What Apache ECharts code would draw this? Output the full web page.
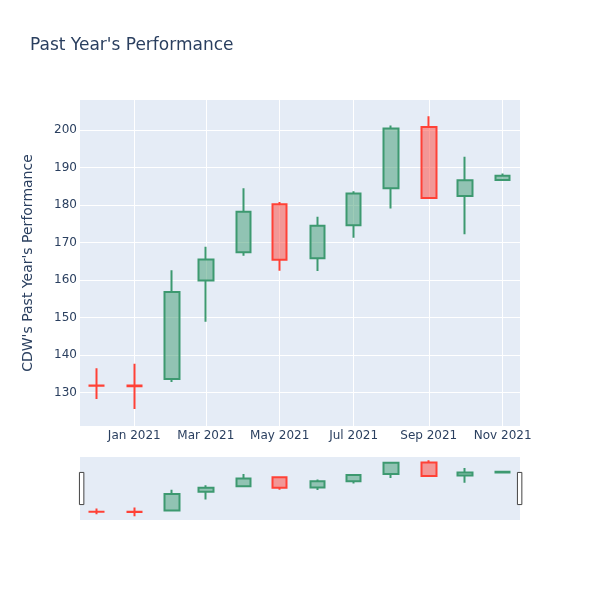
<!DOCTYPE html>
<html>
<head>
<meta charset="utf-8">
<script src="https://cdn.jsdelivr.net/npm/echarts@6/dist/echarts.min.js"></script>
<style>
  html, body { margin: 0; padding: 0; background: #fff; }
  #main { width: 600px; height: 600px; }
</style>
</head>
<body>
<div id="main"></div>
<script>
// monthly candles
var dates = ['2020-12-01', '2021-01-01', '2021-02-01', '2021-03-01', '2021-04-01', '2021-05-01',
             '2021-06-01', '2021-07-01', '2021-08-01', '2021-09-01', '2021-10-01', '2021-11-01'];
var openVals  = [131.9, 131.9, 133.6, 159.9, 167.4, 180.2, 165.8, 174.6, 184.5, 200.8, 182.4, 186.7];
var closeVals = [131.8, 131.7, 156.8, 165.5, 178.2, 165.4, 174.5, 183.1, 200.4, 181.9, 186.6, 187.8];
var lowVals   = [128.3, 125.6, 132.8, 148.9, 166.5, 162.5, 162.4, 171.3, 179.1, 181.9, 172.2, 186.7];
var highVals  = [136.5, 137.7, 162.6, 168.9, 184.5, 180.8, 176.9, 183.7, 201.2, 203.7, 192.9, 188.4];

var xTicks = ['2021-01-01', '2021-03-01', '2021-05-01', '2021-07-01', '2021-09-01', '2021-11-01'];
var yTicks = [130, 140, 150, 160, 170, 180, 190, 200];
var monthNames = ['Jan', 'Feb', 'Mar', 'Apr', 'May', 'Jun', 'Jul', 'Aug', 'Sep', 'Oct', 'Nov', 'Dec'];

function ts(s) {
  var p = s.split('-');
  return Date.UTC(+p[0], +p[1] - 1, +p[2]);
}

var candles = dates.map(function (d, i) {
  return [ts(d), openVals[i], closeVals[i], lowVals[i], highVals[i]];
});

var xMin = ts('2020-11-17') + 5 * 3600e3;
var xMax = ts('2021-11-15') + 7 * 3600e3;

var font = 'DejaVu Sans, Open Sans, sans-serif';
var txt = '#2a3f5f';

var candleStyle = {
  color: 'rgba(61,153,112,0.5)',
  color0: 'rgba(255,65,54,0.5)',
  borderColor: '#3D9970',
  borderColor0: '#FF4136',
  borderWidth: 2
};

var chart = echarts.init(document.getElementById('main'), null, { renderer: 'canvas' });

chart.setOption({
  backgroundColor: '#fff',
  animation: false,
  title: {
    text: "Past Year's Performance",
    left: 25,
    top: 32,
    textStyle: { color: txt, fontSize: 17, fontWeight: 'normal', fontFamily: font }
  },
  grid: [
    { left: 80, top: 100, width: 440, height: 326, show: true, backgroundColor: '#E5ECF6', borderWidth: 0 },
    { left: 80, top: 457, width: 440, height: 63, show: true, backgroundColor: '#E5ECF6', borderWidth: 0 }
  ],
  xAxis: [
    {
      type: 'value', gridIndex: 0, min: xMin, max: xMax,
      axisLine: { show: false },
      axisTick: { show: false, customValues: xTicks.map(ts) },
      splitLine: { show: true, lineStyle: { color: '#fff', width: 1 } },
      axisLabel: {
        customValues: xTicks.map(ts),
        color: txt, fontSize: 12, fontFamily: font, margin: 4,
        formatter: function (v) {
          var d = new Date(v);
          return monthNames[d.getUTCMonth()] + ' ' + d.getUTCFullYear();
        }
      }
    },
    {
      type: 'value', gridIndex: 1, min: xMin, max: xMax,
      axisLine: { show: false }, axisTick: { show: false },
      axisLabel: { show: false }, splitLine: { show: false }
    }
  ],
  yAxis: [
    {
      type: 'value', gridIndex: 0, min: 121.1, max: 208,
      name: "CDW's Past Year's Performance",
      nameLocation: 'middle', nameGap: 45,
      nameTextStyle: { color: txt, fontSize: 14, fontFamily: font },
      axisLine: { show: false },
      axisTick: { show: false, customValues: yTicks },
      splitLine: { show: true, lineStyle: { color: '#fff', width: 1 } },
      axisLabel: { customValues: yTicks, color: txt, fontSize: 12, fontFamily: font, margin: 3 }
    },
    {
      type: 'value', gridIndex: 1, min: 120.4, max: 208.3,
      axisLine: { show: false }, axisTick: { show: false },
      axisLabel: { show: false }, splitLine: { show: false }
    }
  ],
  dataZoom: [
    {
      type: 'slider', xAxisIndex: 1, filterMode: 'none', start: 0, end: 100,
      left: 80, width: 440, top: 457, height: 63,
      backgroundColor: 'rgba(0,0,0,0)', borderColor: 'rgba(0,0,0,0)',
      fillerColor: 'rgba(0,0,0,0)',
      showDataShadow: false, showDetail: false, brushSelect: false,
      handleIcon: 'path://M0,0H4V29H0Z', handleSize: '51%',
      handleStyle: { color: '#fff', borderColor: '#444', borderWidth: 1 },
      moveHandleSize: 0, moveHandleStyle: { opacity: 0 },
      emphasis: { handleStyle: { color: '#fff', borderColor: '#444', borderWidth: 1 } }
    }
  ],
  series: [
    {
      type: 'candlestick', xAxisIndex: 0, yAxisIndex: 0,
      data: candles, encode: { x: 0, y: [1, 2, 3, 4] },
      barWidth: 15, itemStyle: candleStyle
    },
    {
      type: 'candlestick', xAxisIndex: 1, yAxisIndex: 1,
      data: candles, encode: { x: 0, y: [1, 2, 3, 4] },
      barWidth: 15, itemStyle: candleStyle
    }
  ]
});
</script>
</body>
</html>
